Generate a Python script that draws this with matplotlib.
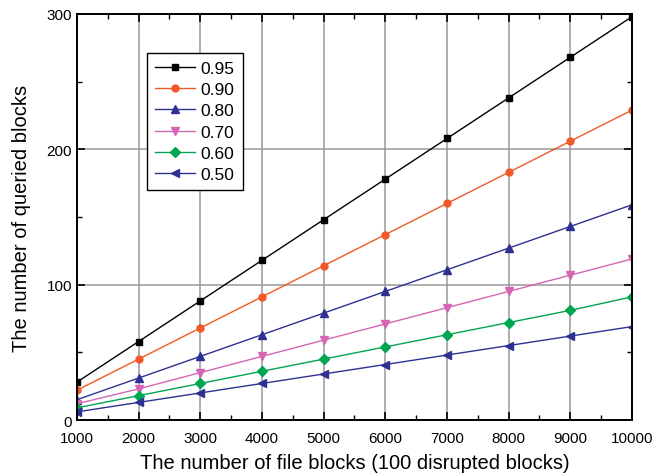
import numpy as np
import matplotlib
matplotlib.use('Agg')
import matplotlib.pyplot as plt
from matplotlib.ticker import MultipleLocator

plt.rcParams['font.family'] = ['Liberation Sans', 'DejaVu Sans']

file_blocks = [1000, 2000, 3000, 4000, 5000, 6000, 7000, 8000, 9000, 10000]
labels = ['0.95', '0.90', '0.80', '0.70', '0.60', '0.50']
q95 = [28, 58, 88, 118, 148, 178, 208, 238, 268, 298]
q90 = [22, 45, 68, 91, 114, 137, 160, 183, 206, 229]
q80 = [15, 31, 47, 63, 79, 95, 111, 127, 143, 159]
q70 = [12, 23, 35, 47, 59, 71, 83, 95, 107, 119]
q60 = [9, 18, 27, 36, 45, 54, 63, 72, 81, 91]
q50 = [6, 13, 20, 27, 34, 41, 48, 55, 62, 69]

series = [q95, q90, q80, q70, q60, q50]
colors = ['black', '#f05a28', '#2e3192', '#d466b4', '#00a651', '#2e3192']
markers = ['s', 'o', '^', 'v', 'D', '<']
msizes = [5, 5, 6, 6, 5, 6]

fig = plt.figure(figsize=(6.67, 4.77), dpi=100)
ax = fig.add_axes([0.1154, 0.1174, 0.8321, 0.8512])

for ys, c, m, ms, lab in zip(series, colors, markers, msizes, labels):
    ax.plot(file_blocks, ys, color=c, marker=m, markersize=ms, linewidth=1.0, label=lab)

ax.set_xlim(1000, 10000)
ax.set_ylim(0, 300)
ax.xaxis.set_major_locator(MultipleLocator(1000))
ax.xaxis.set_minor_locator(MultipleLocator(500))
ax.yaxis.set_major_locator(MultipleLocator(100))
ax.yaxis.set_minor_locator(MultipleLocator(50))
ax.grid(True, which='major', color='#999999', linewidth=1.1)
ax.set_axisbelow(True)
ax.tick_params(which='both', direction='in', top=True, right=True, labelsize=11)
ax.tick_params(which='major', length=6, width=1.2)
ax.tick_params(which='minor', length=3.5, width=1.0)
ax.tick_params(axis='x', which='major', pad=8)
for s in ax.spines.values():
    s.set_linewidth(1.4)

ax.set_xlabel('The number of file blocks (100 disrupted blocks)', fontsize=14.5, labelpad=6)
ax.set_ylabel('The number of queried blocks', fontsize=14.5, labelpad=11)

leg = ax.legend(loc='upper left', bbox_to_anchor=(0.126, 0.904), fontsize=12.5,
                frameon=True, fancybox=False, edgecolor='black', framealpha=1,
                handlelength=2.3, borderpad=0.45, labelspacing=0.35, handletextpad=0.35,
                borderaxespad=0)
leg.get_frame().set_linewidth(1.0)

fig.savefig('out.png', dpi=100)
